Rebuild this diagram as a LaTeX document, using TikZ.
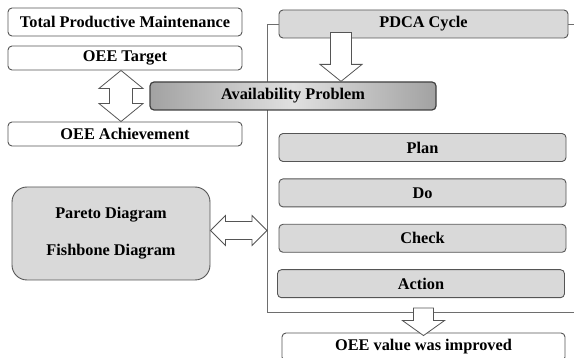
\documentclass[tikz,border=0pt]{standalone}
\usepackage{fontspec}
\setmainfont{Liberation Serif}
\usetikzlibrary{positioning,calc}
\definecolor{BoxGray}{HTML}{D9D9D9}
\definecolor{EdgeGray}{HTML}{555555}
\definecolor{FrameGray}{HTML}{6E6E6E}
\definecolor{ShadeDark}{HTML}{A2A2A2}
\definecolor{ShadeLight}{HTML}{E0E0E0}

\begin{document}
\begin{tikzpicture}[x=1pt, y=-1pt,
  plain/.style   = {draw=EdgeGray, line width=0.9pt, fill=white, rounded corners=4pt,
                    minimum width=234pt, minimum height=24pt, inner sep=0pt,
                    font=\fontsize{16.3}{19}\selectfont\bfseries},
  stepbox/.style = {plain, fill=BoxGray, minimum width=287pt, minimum height=28pt},
  fat/.style     = {draw=EdgeGray, line width=0.8pt, fill=white, line join=miter},
  frame/.style   = {draw=FrameGray, line width=0.9pt},
  node distance=16.5pt
]
  \useasboundingbox (0,0) rectangle (574,358);

  % left column
  \node[plain, minimum height=28pt] (tpm) at (125,22) {Total Productive Maintenance};
  \node[plain] (tgt) at (125,58) {OEE Target};
  \node[plain] (ach) at (125,134) {OEE Achievement};
  \node[plain, fill=BoxGray, rounded corners=15pt, minimum width=198pt, minimum height=93pt,
        align=center] (tools) at (111,233.5) {Pareto Diagram\\[18pt]Fishbone Diagram};

  % PDCA frame
  \node[stepbox, minimum width=289pt] (pdca) at (423.5,24) {PDCA Cycle};
  \coordinate (ftop) at (267,24);
  \coordinate (fbot) at (267,312);
  \coordinate (fend) at (574,312);
  \draw[frame] (pdca.west) -- (ftop) -- (fbot) -- (fend);
  \draw[frame] (pdca.east) -- ++(6,0);

  \node[plain, draw=black!75, line width=1.2pt, minimum width=286pt, minimum height=28pt,
        left color=ShadeDark, right color=ShadeDark, middle color=ShadeLight] (avail) at (293,96) {Availability Problem};

  \node[stepbox] (plan) at (422.5,147.5) {Plan};
  \node[stepbox, below=of plan] (do) {Do};
  \node[stepbox, below=of do] (check) {Check};
  \node[stepbox, below=of check, xshift=-1.5pt] (action) {Action};

  \node[plain, minimum width=283pt, minimum height=28pt] (oee) at (423.5,347) {OEE value was improved};

  % block arrows
  \coordinate (ua) at ($(tgt.south)+(-4,0)$);
  \coordinate (ub) at (ua |- ach.north);
  \draw[fat] (ua) -- ++(22,18) -- ++(-10.5,0) -- ($(ub)+(11.5,-18)$) -- ++(10.5,0) -- (ub)
    -- ++(-22,-18) -- ++(10.5,0) -- ($(ua)+(-11.5,18)$) -- ++(-10.5,0) -- cycle;

  \coordinate (ha) at ($(tools.east)+(0,-3)$);
  \coordinate (hb) at (ha -| fbot);
  \draw[fat] (ha) -- ++(15,-15) -- ++(0,6) -- ($(hb)+(-15,-9)$) -- ++(0,-6) -- (hb)
    -- ++(-15,15) -- ++(0,-6) -- ($(ha)+(15,9)$) -- ++(0,6) -- cycle;

  \coordinate (pa) at ($(avail.north)+(48,0)$);
  \draw[fat] (pa) -- ++(21,-17) -- ++(-10.5,0) -- ($(pa |- pdca.south)+(10.5,-6)$) -- ++(-21,0)
    -- ($(pa)+(-10.5,-17)$) -- ++(-10.5,0) -- cycle;

  \coordinate (pb) at ($(oee.north)+(0,3)$);
  \draw[fat] (pb) -- ++(21,-15) -- ++(-11,0) -- ($(pb |- fend)+(10,-4)$) -- ++(-20,0)
    -- ($(pb)+(-10,-15)$) -- ++(-11,0) -- cycle;
\end{tikzpicture}
\end{document}
